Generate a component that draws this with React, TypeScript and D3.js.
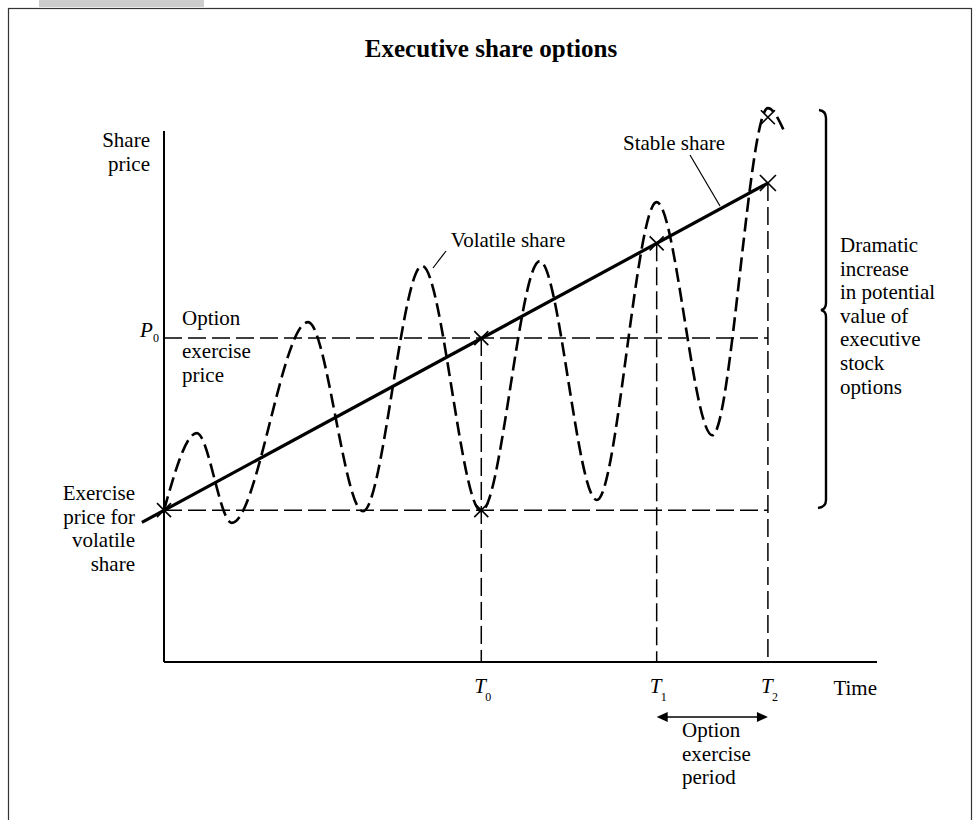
import React from "react";
import * as d3 from "d3";

// ---- data (time units 0..100, price units 0..100) ----
const volatileTime = [0, 4.6, 9.5, 20.2, 27.9, 36.2, 44.5, 52.7, 60.7, 69.1, 76.9, 84.7, 87.1];
const volatilePrice = [28.6, 43.1, 26.2, 64.0, 28.4, 74.6, 28.4, 75.5, 30.5, 86.6, 42.7, 104.3, 99.6];
const stableTime = [-3.1, 84.7];
const stablePrice = [26.3, 90.2];
const keyTimes = [44.5, 69.1, 84.7];
const keyTimeLabels = ["0", "1", "2"];
const exercisePrice = 28.6;
const optionPrice = 61.0;
const peakMark = [84.7, 102.6];

const W = 980;
const H = 820;
const FONT = "'Liberation Serif', 'Times New Roman', serif";

export default function App() {
  const x = d3.scaleLinear().domain([0, 100]).range([164, 877]);
  const y = d3.scaleLinear().domain([0, 100]).range([662, 131]);

  const volPts: [number, number][] = volatileTime.map((t, i) => [x(t), y(volatilePrice[i])]);
  const volPath = d3.line().curve(d3.curveMonotoneX)(volPts) || "";
  const stablePath = d3.line()(stableTime.map((t, i) => [x(t), y(stablePrice[i])] as [number, number])) || "";

  const stableAt = (t: number) =>
    stablePrice[0] + ((t - stableTime[0]) * (stablePrice[1] - stablePrice[0])) / (stableTime[1] - stableTime[0]);

  const cross = (cx: number, cy: number, r = 7, key?: string) => (
    <g key={key} stroke="#000" strokeWidth={1.6}>
      <line x1={cx - r} y1={cy - r} x2={cx + r} y2={cy + r} />
      <line x1={cx - r} y1={cy + r} x2={cx + r} y2={cy - r} />
    </g>
  );

  const [T0, T1, T2] = keyTimes;
  const labelSize = 21;
  const lh = 23.6;

  const braceX = 826;
  const bTop = 110;
  const bBot = 508;
  const bMid = 310;
  const bracePath = `M ${braceX - 7} ${bTop} Q ${braceX} ${bTop + 1} ${braceX} ${bTop + 8} L ${braceX} ${bMid - 7} Q ${braceX} ${bMid - 1} ${braceX - 5} ${bMid} Q ${braceX} ${bMid + 1} ${braceX} ${bMid + 7} L ${braceX} ${bBot - 8} Q ${braceX} ${bBot - 1} ${braceX - 8} ${bBot}`;

  const arrowY = 717;
  const ax1 = x(T1);
  const ax2 = x(T2);

  const rightText = ["Dramatic", "increase", "in potential", "value of", "executive", "stock", "options"];

  return (
    <svg
      width={W}
      height={H}
      style={{ position: "absolute", left: 0, top: 0, display: "block", background: "#fff" }}
      fontFamily={FONT}
    >
      {/* frame */}
      <rect x={39} y={0} width={165} height={7} fill="#cccccc" />
      <rect x={8.5} y={8.5} width={963} height={840} fill="none" stroke="#333" strokeWidth={1.2} />

      {/* title */}
      <text x={491} y={57} textAnchor="middle" fontSize={25} fontWeight="bold">
        Executive share options
      </text>

      {/* axes */}
      <line x1={x(0)} y1={y(100)} x2={x(0)} y2={y(0)} stroke="#000" strokeWidth={2} />
      <line x1={x(0)} y1={y(0)} x2={x(100)} y2={y(0)} stroke="#000" strokeWidth={2} />

      {/* reference dashed lines */}
      <g stroke="#000" strokeWidth={1.5} strokeDasharray="18 6" fill="none">
        <line x1={x(0)} y1={y(optionPrice)} x2={x(T2)} y2={y(optionPrice)} />
        <line x1={x(0)} y1={y(exercisePrice)} x2={x(T2)} y2={y(exercisePrice)} />
        <line x1={x(T0)} y1={y(optionPrice)} x2={x(T0)} y2={y(0)} />
        <line x1={x(T1)} y1={y(stableAt(T1))} x2={x(T1)} y2={y(0)} />
        <line x1={x(T2)} y1={y(stableAt(T2))} x2={x(T2)} y2={y(0)} />
      </g>

      {/* volatile share */}
      <path d={volPath} fill="none" stroke="#000" strokeWidth={2.6} strokeDasharray="14 6" />

      {/* stable share */}
      <path d={stablePath} fill="none" stroke="#000" strokeWidth={3.2} />

      {/* crosses */}
      {cross(x(0), y(exercisePrice), 7, "c0")}
      {cross(x(T0), y(optionPrice), 7, "c1")}
      {cross(x(T0), y(exercisePrice), 7, "c2")}
      {cross(x(T1), y(stableAt(T1)), 7, "c3")}
      {cross(x(T2), y(stableAt(T2)), 8, "c4")}
      {cross(x(peakMark[0]), y(peakMark[1]), 7, "c5")}

      {/* leader lines */}
      <line x1={690} y1={155} x2={720} y2={206} stroke="#000" strokeWidth={1.2} />
      <line x1={446} y1={251} x2={433} y2={268} stroke="#000" strokeWidth={1.2} />

      {/* labels */}
      <g fontSize={labelSize} fill="#000">
        <text x={150} y={147} textAnchor="end">Share</text>
        <text x={150} y={147 + lh} textAnchor="end">price</text>

        <text x={140} y={337} fontStyle="italic">P</text>
        <text x={153} y={342} fontSize={12}>0</text>

        <text x={182} y={325}>Option</text>
        <text x={182} y={358}>exercise</text>
        <text x={182} y={358 + lh}>price</text>

        <text x={135} y={500} textAnchor="end">Exercise</text>
        <text x={135} y={500 + lh} textAnchor="end">price for</text>
        <text x={135} y={500 + 2 * lh} textAnchor="end">volatile</text>
        <text x={135} y={500 + 3 * lh} textAnchor="end">share</text>

        <text x={674} y={150} textAnchor="middle">Stable share</text>
        <text x={508} y={247} textAnchor="middle">Volatile share</text>

        {rightText.map((s, i) => (
          <text key={s} x={840} y={252 + i * lh}>{s}</text>
        ))}

        {keyTimes.map((t, i) => (
          <g key={"tl" + i}>
            <text x={x(t) - 7} y={693} fontStyle="italic">T</text>
            <text x={x(t) + 4} y={701} fontSize={12}>{keyTimeLabels[i]}</text>
          </g>
        ))}
        <text x={877} y={695} textAnchor="end">Time</text>

        <text x={682} y={737}>Option</text>
        <text x={682} y={737 + lh}>exercise</text>
        <text x={682} y={737 + 2 * lh}>period</text>
      </g>

      {/* option exercise period arrow */}
      <line x1={ax1 + 8} y1={arrowY} x2={ax2 - 8} y2={arrowY} stroke="#000" strokeWidth={1.5} />
      <path d={`M ${ax1} ${arrowY} L ${ax1 + 11} ${arrowY - 5} L ${ax1 + 11} ${arrowY + 5} Z`} fill="#000" />
      <path d={`M ${ax2} ${arrowY} L ${ax2 - 11} ${arrowY - 5} L ${ax2 - 11} ${arrowY + 5} Z`} fill="#000" />

      {/* brace */}
      <path d={bracePath} fill="none" stroke="#000" strokeWidth={2.4} />
    </svg>
  );
}
